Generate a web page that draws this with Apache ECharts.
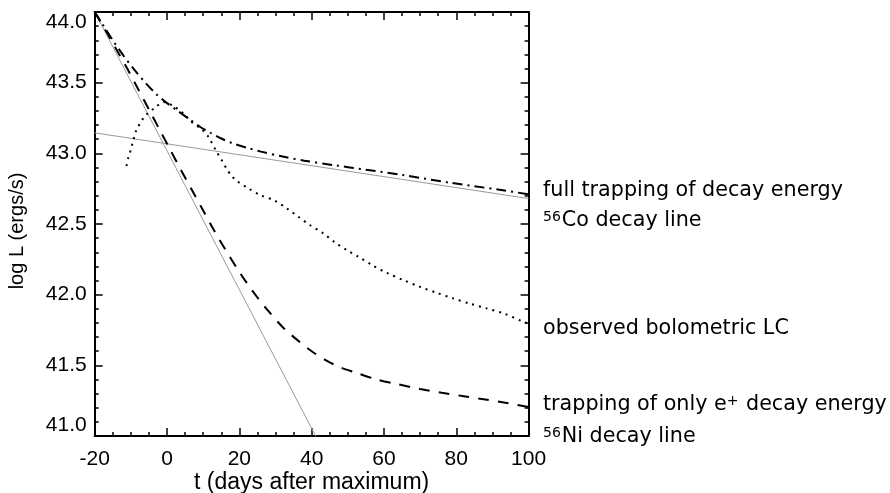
<!DOCTYPE html>
<html>
<head>
<meta charset="utf-8">
<script src="https://cdn.jsdelivr.net/npm/echarts@6/dist/echarts.min.js"></script>
<style>
  html, body { margin: 0; padding: 0; background: #fff; }
  #chart { width: 890px; height: 493px; }
</style>
</head>
<body>
<div id="chart"></div>
<script>
// Bolometric light curve of a Type Ia supernova against radioactive-decay models.
// Values are log L (erg/s) against t (days after maximum).

const xTicks = [-20, 0, 20, 40, 60, 80, 100];
const yTicks = [41.0, 41.5, 42.0, 42.5, 43.0, 43.5, 44.0];

// model: full trapping of decay energy
const fullTrapping = [
  [-20, 44.0], [-18, 43.92], [-15, 43.80], [-12, 43.69], [-9, 43.59], [-6, 43.50],
  [-3, 43.42], [0, 43.355], [3, 43.30], [6, 43.245], [9, 43.19], [12, 43.145],
  [15, 43.105], [18, 43.072], [22, 43.04], [26, 43.012], [32, 42.977], [38, 42.948],
  [46, 42.917], [55, 42.884], [65, 42.847], [78, 42.793], [92, 42.742], [100, 42.71]
];

// model: only positron energy trapped
const positronTrapping = [
  [-20, 44.0], [-17, 43.87], [-14, 43.735], [-11, 43.60], [-8, 43.455], [-5, 43.31],
  [-2, 43.165], [1, 43.02], [4, 42.875], [7, 42.735], [10, 42.595], [13, 42.455],
  [16, 42.325], [19, 42.20], [22, 42.085], [25, 41.98], [28, 41.885], [32, 41.77],
  [36, 41.68], [40, 41.60], [44, 41.535], [48, 41.485], [52, 41.45], [58, 41.40],
  [64, 41.365], [70, 41.333], [76, 41.306], [82, 41.282], [88, 41.258], [94, 41.233],
  [100, 41.205]
];

// observed bolometric light curve
const observed = [
  [-11.2, 42.91], [-10.7, 42.97], [-10, 43.025], [-9.5, 43.075], [-8.4, 43.17],
  [-7.3, 43.217], [-6.1, 43.264], [-3, 43.33], [-1, 43.363], [1.7, 43.335],
  [4.5, 43.283], [6.8, 43.222], [9.6, 43.17], [11.4, 43.118], [13.7, 43.012],
  [15.1, 42.953], [16.5, 42.89], [17.9, 42.84], [19.3, 42.805], [22.5, 42.752],
  [25.7, 42.705], [29.8, 42.665], [33.1, 42.611], [36.3, 42.552], [39.5, 42.493],
  [43.2, 42.434], [46.4, 42.37], [49.7, 42.316], [52.9, 42.269], [57, 42.205],
  [60.7, 42.155], [65.3, 42.104], [69.9, 42.056], [74.5, 42.014], [79.1, 41.974],
  [83.8, 41.936], [88.4, 41.903], [93, 41.868], [98.5, 41.809], [100, 41.795]
];

// pure exponential decay lines
const coDecayLine = [[-20, 43.145], [100, 42.68]];
const niDecayLine = [[-20, 44.0], [41.1, 41.0]];

// right-hand annotations, top to bottom ({s|..} marks a superscript)
const annotationTexts = [
  'full trapping of decay energy',
  '{s|56}Co decay line',
  'observed bolometric LC',
  'trapping of only e{s|+} decay energy',
  '{s|56}Ni decay line'
];
const annotationY = [192, 222, 330, 406, 438];

const chart = echarts.init(document.getElementById('chart'));

const SANS = 'Liberation Sans, Arial, sans-serif';
const NOTE_FONT = '"DejaVu Sans", sans-serif';

function axisLineStyle() {
  return { show: true, onZero: false, lineStyle: { color: '#000', width: 2 } };
}
function majorTick() {
  return { show: true, inside: true, length: 8, lineStyle: { color: '#000', width: 1.5 } };
}
function minorTick(n) {
  return { show: true, splitNumber: n, length: 4, lineStyle: { color: '#000', width: 1.5 } };
}
function xRange() {
  return { type: 'value', min: xTicks[0], max: xTicks[xTicks.length - 1], interval: xTicks[1] - xTicks[0] };
}
function yRange() {
  return { type: 'value', min: yTicks[0], max: yTicks[yTicks.length - 1], interval: yTicks[1] - yTicks[0] };
}

const option = {
  animation: false,
  backgroundColor: '#fff',
  grid: { left: 94.7, right: 361.4, top: 12, bottom: 57, containLabel: false, outerBoundsMode: 'none' },
  xAxis: [
    Object.assign(xRange(), {
      position: 'bottom',
      name: 't (days after maximum)',
      nameLocation: 'middle',
      nameGap: 35,
      nameMoveOverlap: false,
      nameTextStyle: { color: '#000', fontFamily: SANS, fontSize: 23 },
      axisLine: axisLineStyle(), axisTick: majorTick(), minorTick: minorTick(4),
      splitLine: { show: false }, minorSplitLine: { show: false },
      axisLabel: { margin: 13, color: '#000', fontFamily: SANS, fontSize: 21, formatter: (v) => String(v) }
    }),
    Object.assign(xRange(), {
      position: 'top',
      axisLine: axisLineStyle(), axisTick: majorTick(), minorTick: minorTick(4),
      splitLine: { show: false }, minorSplitLine: { show: false },
      axisLabel: { show: false }
    })
  ],
  yAxis: [
    Object.assign(yRange(), {
      position: 'left',
      axisLine: axisLineStyle(), axisTick: majorTick(), minorTick: minorTick(5),
      splitLine: { show: false }, minorSplitLine: { show: false },
      axisLabel: {
        margin: 8, color: '#000', fontFamily: SANS, fontSize: 21,
        verticalAlignMinLabel: 'bottom', verticalAlignMaxLabel: 'top',
        formatter: (v) => v.toFixed(1)
      }
    }),
    Object.assign(yRange(), {
      position: 'right',
      axisLine: axisLineStyle(), axisTick: majorTick(), minorTick: minorTick(5),
      splitLine: { show: false }, minorSplitLine: { show: false },
      axisLabel: { show: false }
    })
  ],
  series: [
    {
      name: 'Co decay', type: 'line', data: coDecayLine, symbol: 'none',
      lineStyle: { color: '#9a9a9a', width: 1 }
    },
    {
      name: 'Ni decay', type: 'line', data: niDecayLine, symbol: 'none',
      lineStyle: { color: '#9a9a9a', width: 1 }
    },
    {
      name: 'full trapping', type: 'line', data: fullTrapping, symbol: 'none', smooth: 0.3,
      lineStyle: { color: '#000', width: 2, type: [10, 5, 2, 5] }
    },
    {
      name: 'positron trapping', type: 'line', data: positronTrapping, symbol: 'none', smooth: 0.3,
      lineStyle: { color: '#000', width: 2, type: [11, 9] }
    },
    {
      name: 'observed', type: 'line', data: observed, symbol: 'none', smooth: 0.3,
      lineStyle: { color: '#000', width: 2, type: [2, 5] }
    }
  ],
  graphic: [
    // vertical axis title
    {
      type: 'text',
      x: 17, y: 231,
      rotation: Math.PI / 2,
      style: {
        text: 'log L (ergs/s)',
        fill: '#000',
        font: '20px ' + SANS,
        align: 'center',
        verticalAlign: 'middle'
      }
    }
  ].concat(annotationTexts.map((t, i) => ({
    type: 'text',
    left: 543,
    top: annotationY[i] - 12,
    style: {
      text: t,
      fill: '#000',
      font: '20.7px ' + NOTE_FONT,
      rich: {
        s: { fontSize: 14, fontFamily: 'DejaVu Sans', verticalAlign: 'top', padding: [0, 1, 0, 0] }
      }
    }
  })))
};

chart.setOption(option);
</script>
</body>
</html>
